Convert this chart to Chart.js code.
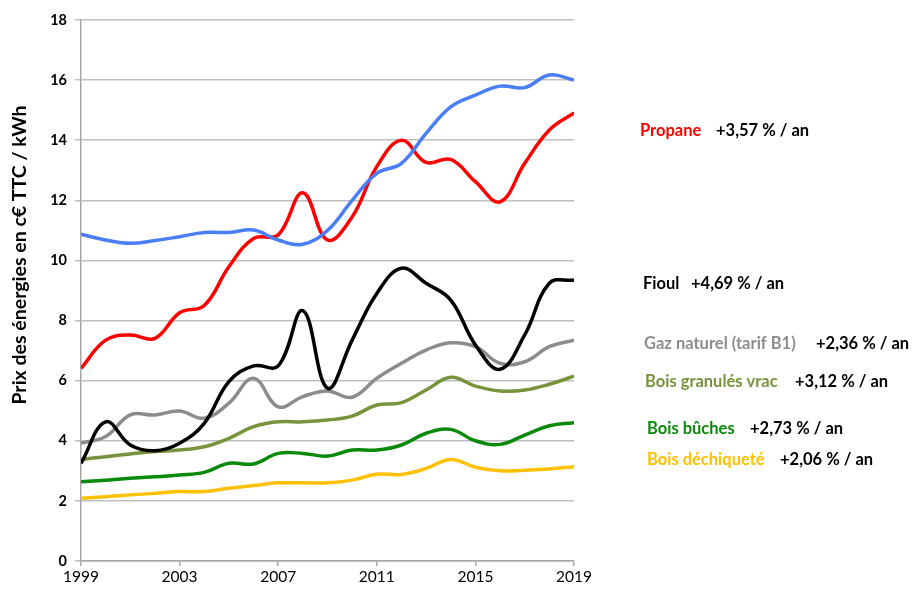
<!DOCTYPE html>
<html>
<head>
<meta charset="utf-8">
<script src="https://cdn.jsdelivr.net/npm/chart.js@4/dist/chart.umd.min.js"></script>
<style>
  html, body { margin: 0; padding: 0; background: #fff; }
  #chart { display: block; }
</style>
</head>
<body>
<canvas id="chart" width="913" height="592"></canvas>
<script>
// Data
const years = [1999, 2000, 2001, 2002, 2003, 2004, 2005, 2006, 2007, 2008, 2009,
               2010, 2011, 2012, 2013, 2014, 2015, 2016, 2017, 2018, 2019];

const electricite = [10.87, 10.68, 10.57, 10.66, 10.79, 10.93, 10.93, 11.01, 10.68, 10.54, 11.0,
                     12.0, 12.9, 13.23, 14.23, 15.11, 15.5, 15.8, 15.75, 16.17, 16.0];
const propane = [6.41, 7.35, 7.52, 7.41, 8.26, 8.5, 9.79, 10.73, 10.85, 12.25, 10.68,
                 11.45, 13.12, 14.0, 13.26, 13.36, 12.62, 11.95, 13.23, 14.34, 14.91];
const fioul = [3.25, 4.63, 3.86, 3.67, 3.92, 4.58, 5.97, 6.49, 6.49, 8.33, 5.75,
               7.35, 8.9, 9.74, 9.24, 8.68, 7.19, 6.38, 7.52, 9.24, 9.35];
const gazNaturel = [3.92, 4.14, 4.86, 4.86, 4.99, 4.75, 5.25, 6.08, 5.13, 5.47, 5.66,
                    5.45, 6.08, 6.58, 7.02, 7.26, 7.13, 6.58, 6.63, 7.13, 7.35];
const granules = [3.38, 3.47, 3.56, 3.64, 3.69, 3.8, 4.08, 4.47, 4.63, 4.63, 4.69,
                  4.82, 5.19, 5.27, 5.69, 6.11, 5.82, 5.66, 5.69, 5.88, 6.15];
const buches = [2.64, 2.69, 2.75, 2.8, 2.86, 2.95, 3.25, 3.23, 3.58, 3.58, 3.49,
                3.69, 3.69, 3.86, 4.25, 4.38, 4.0, 3.88, 4.19, 4.5, 4.6];
const dechiquete = [2.09, 2.14, 2.2, 2.25, 2.31, 2.31, 2.42, 2.51, 2.6, 2.6, 2.6,
                    2.69, 2.89, 2.88, 3.08, 3.38, 3.12, 3.0, 3.02, 3.06, 3.14];

const labelNames = ['Propane', 'Fioul', 'Gaz naturel (tarif B1)', 'Bois granulés vrac', 'Bois bûches', 'Bois déchiqueté'];
const labelRates = ['+3,57 % / an', '+4,69 % / an', '+2,36 % / an', '+3,12 % / an', '+2,73 % / an', '+2,06 % / an'];
const yTitle = 'Prix des énergies en c€ TTC / kWh';

const FONT = 'Lato, "Open Sans", sans-serif';

function toPoints(values) {
    return values.map((v, i) => ({ x: years[i], y: v }));
}

function lineSet(label, values, color) {
    return {
        label: label,
        data: toPoints(values),
        borderColor: color,
        backgroundColor: color,
        borderWidth: 3.5,
        pointRadius: 0,
        tension: 0.4,
        fill: false
    };
}

// Right-hand annotations (name + yearly growth), rate drawn at its own x
const labelColors = ['#ff0000', '#000000', '#8c8c8c', '#77933c', '#0a8a0a', '#ffc000'];
const labelPos = [
    { x: 640, y: 131, rx: 716 },
    { x: 643, y: 284, rx: 691 },
    { x: 644, y: 344, rx: 816 },
    { x: 645, y: 382, rx: 795 },
    { x: 647, y: 429, rx: 750 },
    { x: 647, y: 460, rx: 780 }
];

const sideLabels = {
    id: 'sideLabels',
    afterDraw(chart) {
        const ctx = chart.ctx;
        ctx.save();
        ctx.font = 'bold 16.5px ' + FONT;
        ctx.textBaseline = 'middle';
        ctx.textAlign = 'left';
        labelNames.forEach((name, i) => {
            const p = labelPos[i];
            ctx.fillStyle = labelColors[i];
            ctx.fillText(name, p.x, p.y);
            ctx.fillStyle = '#000';
            ctx.fillText(labelRates[i], p.rx, p.y);
        });

        // y axis title
        ctx.translate(20, 255);
        ctx.rotate(-Math.PI / 2);
        ctx.textAlign = 'center';
        ctx.fillStyle = '#000';
        ctx.font = 'bold 19.5px ' + FONT;
        ctx.fillText(yTitle, 0, 0);
        ctx.restore();
    }
};

const ctx = document.getElementById('chart').getContext('2d');
new Chart(ctx, {
    type: 'line',
    data: {
        datasets: [
            lineSet('Électricité', electricite, '#4a7ef7'),
            lineSet('Propane', propane, '#ff0000'),
            lineSet('Fioul', fioul, '#000000'),
            lineSet('Gaz naturel (tarif B1)', gazNaturel, '#8c8c8c'),
            lineSet('Bois granulés vrac', granules, '#77933c'),
            lineSet('Bois bûches', buches, '#0a8a0a'),
            lineSet('Bois déchiqueté', dechiquete, '#ffc000')
        ]
    },
    options: {
        responsive: false,
        animation: false,
        layout: { padding: { left: 0, right: 339, top: 20, bottom: 0 } },
        plugins: {
            legend: { display: false },
            tooltip: { enabled: false }
        },
        scales: {
            x: {
                type: 'linear',
                min: 1999,
                max: 2019,
                afterFit(scale) { scale.height = 31; },
                ticks: {
                    stepSize: 4,
                    color: '#000',
                    padding: 2,
                    maxRotation: 0,
                    font: { family: FONT, size: 15.5 },
                    callback: v => String(v)
                },
                grid: { drawOnChartArea: false, drawTicks: true, tickLength: 5, color: '#a6a6a6', lineWidth: 1.5 },
                border: { color: '#a6a6a6', width: 1.5 }
            },
            y: {
                min: 0,
                max: 18,
                afterFit(scale) { scale.width = 81; },
                ticks: {
                    stepSize: 2,
                    color: '#000',
                    padding: 8,
                    font: { family: FONT, size: 14.5, weight: 'bold' }
                },
                grid: { color: '#bfbfbf', lineWidth: 1.5, tickLength: 6 },
                border: { color: '#a6a6a6', width: 1.5 }
            }
        }
    },
    plugins: [sideLabels]
});
</script>
</body>
</html>
